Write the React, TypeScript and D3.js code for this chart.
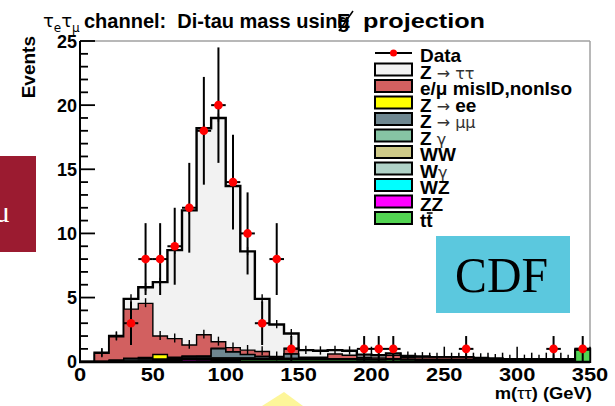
import React from 'react';
import * as d3 from 'd3';

// 35 bins of 10 GeV, 0-350
const binStarts = d3.range(0, 350, 10);
const xTicks = [0, 50, 100, 150, 200, 250, 300, 350];
const yTicks = [0, 5, 10, 15, 20, 25];

// MC backgrounds, events per bin
const zTauTau = [0, 0.05, 0.05, 0.8, 1.25, 4.2, 6.9, 10.5, 16.1, 17.45, 12.6, 7.7, 4.1, 2.5, 1.15, 0.55, 0.5, 0.3, 0.35, 0.2, 0.2, 0.15, 0.1, 0.1, 0.05, 0.05, 0.05, 0.05, 0.05, 0.05, 0.05, 0.05, 0.05, 0.05, 0.05];
const misId = [0, 0.63, 1.83, 3.83, 4.22, 1.44, 1.45, 0.86, 1.65, 0.5, 0.32, 0.33, 0.39, 0.1, 0.45, 0.08, 0.12, 0.37, 0.27, 0.16, 0.13, 0.27, 0.17, 0.15, 0.15, 0.15, 0.15, 0.13, 0.08, 0.05, 0.05, 0.06, 0.06, 0.07, 0.03];
const zee = [0, 0, 0, 0.05, 0.1, 0.35, 0.1, 0.05, 0.05, 0.05, 0.03, 0.02, 0, 0, 0, 0, 0, 0, 0, 0, 0, 0, 0, 0, 0, 0, 0, 0, 0, 0, 0, 0, 0, 0, 0];
const zmumu = [0, 0, 0.05, 0.1, 0.1, 0.05, 0.05, 0.1, 0.1, 0.7, 0.45, 0.25, 0.15, 0.05, 0.35, 0.02, 0, 0, 0, 0, 0, 0, 0, 0, 0, 0, 0, 0, 0, 0, 0, 0, 0, 0, 0];
const zgamma = [0, 0.02, 0.05, 0.08, 0.08, 0.06, 0.05, 0.04, 0.03, 0.02, 0.02, 0.02, 0, 0, 0, 0, 0, 0, 0, 0, 0, 0, 0, 0, 0, 0, 0, 0, 0, 0, 0, 0, 0, 0, 0];
const ww = [0, 0, 0, 0.02, 0.03, 0.04, 0.05, 0.05, 0.06, 0.06, 0.06, 0.06, 0.06, 0.06, 0.06, 0.06, 0.06, 0.06, 0.06, 0.05, 0.05, 0.08, 0.06, 0.05, 0.05, 0.05, 0.05, 0.04, 0.04, 0.03, 0.03, 0.03, 0.03, 0.03, 0.02];
const wgamma = [0, 0, 0.02, 0.02, 0.02, 0.02, 0.02, 0.02, 0.02, 0.02, 0.02, 0, 0, 0, 0, 0, 0, 0, 0, 0, 0, 0, 0, 0, 0, 0, 0, 0, 0, 0, 0, 0, 0, 0, 0];
const wz = [0, 0, 0, 0, 0, 0, 0.02, 0.02, 0.02, 0.02, 0.02, 0.02, 0.02, 0.02, 0.02, 0.02, 0.02, 0.02, 0.02, 0.02, 0, 0, 0, 0, 0, 0, 0, 0, 0, 0, 0, 0, 0, 0, 0];
const zz = [0, 0, 0, 0, 0, 0.02, 0.03, 0.12, 0.12, 0.1, 0.08, 0.05, 0.03, 0.02, 0.02, 0.02, 0, 0, 0, 0, 0, 0, 0, 0, 0, 0, 0, 0, 0, 0, 0, 0, 0, 0, 0];
const ttbar = [0, 0, 0, 0, 0, 0.02, 0.03, 0.04, 0.05, 0.08, 0.1, 0.15, 0.15, 0.15, 0.15, 0.15, 0.15, 0.15, 0.15, 0.12, 0.12, 0.15, 0.12, 0.1, 0.1, 0.1, 0.1, 0.08, 0.08, 0.07, 0.07, 0.06, 0.06, 0.05, 0.9];

// data points
const dataMass = [35, 45, 55, 65, 75, 85, 95, 105, 115, 125, 135, 145, 195, 205, 215, 265, 325, 345];
const dataCounts = [3, 8, 8, 9, 12, 18, 20, 14, 10, 3, 8, 1, 1, 1, 1, 1, 1, 1];
const dataErr = [1.7, 2.8, 2.8, 3, 3.5, 4.2, 4.5, 3.7, 3.2, 1.7, 2.8, 1, 1, 1, 1, 1, 1, 1];

// bottom of stack first
const samples = [
  { key: 'ttbar', values: ttbar, color: '#52d452' },
  { key: 'zz', values: zz, color: '#ff00ff' },
  { key: 'wz', values: wz, color: '#00ffff' },
  { key: 'wgamma', values: wgamma, color: '#b0d2c8' },
  { key: 'ww', values: ww, color: '#cfca88' },
  { key: 'zgamma', values: zgamma, color: '#86c4a4' },
  { key: 'zmumu', values: zmumu, color: '#6f8790' },
  { key: 'zee', values: zee, color: '#ffff00' },
  { key: 'misId', values: misId, color: '#d26060' },
  { key: 'zTauTau', values: zTauTau, color: '#f2f2f2' },
];

const font = '"Liberation Sans", Arial, Helvetica, sans-serif';

const W = 615;
const H = 406;

export default function App() {
  const x = d3.scaleLinear().domain([0, 350]).range([80, 590]);
  const y = d3.scaleLinear().domain([0, 25]).range([361.7, 41]);

  const rows = binStarts.map((b, i) => {
    const r: any = { b };
    samples.forEach(s => (r[s.key] = s.values[i]));
    return r;
  });
  const stacked = d3.stack<any>().keys(samples.map(s => s.key))(rows);

  const area = d3
    .area<[number, number]>()
    .x(d => x(d[0]))
    .y0(y(0))
    .y1(d => y(d[1]))
    .curve(d3.curveStepAfter);

  const layerPath = (layer: d3.Series<any, string>) => {
    const pts: [number, number][] = layer.map((d, i) => [binStarts[i], d[1]]);
    pts.push([350, layer[layer.length - 1][1]]);
    return area(pts) || '';
  };

  const colorOf = (k: string) => samples.find(s => s.key === k)!.color;
  const totals = stacked[stacked.length - 1].map(d => d[1]);
  const misTop = stacked[stacked.length - 2].map(d => d[1]);

  const minorY = d3.range(0, 25.01, 1);
  const minorX = d3.range(0, 350.1, 10);

  const legendItems = [
    { color: '#f2f2f2', label: [['Z', true], [' \u2192 \u03c4\u03c4', false]] },
    { color: '#d26060', label: [['e/\u03bc misID,nonIso', true]] },
    { color: '#ffff00', label: [['Z', true], [' \u2192 ', false], ['ee', true]] },
    { color: '#6f8790', label: [['Z', true], [' \u2192 \u03bc\u03bc', false]] },
    { color: '#86c4a4', label: [['Z', true], [' \u03b3', false]] },
    { color: '#cfca88', label: [['WW', true]] },
    { color: '#b0d2c8', label: [['W', true], ['\u03b3', false]] },
    { color: '#00ffff', label: [['WZ', true]] },
    { color: '#ff00ff', label: [['ZZ', true]] },
    { color: '#52d452', label: [['tt', true]] },
  ] as { color: string; label: [string, boolean][] }[];

  const lgX = 375;
  const lgY0 = 53;
  const lgStep = 16.5;
  const ttY = lgY0 + legendItems.length * lgStep;

  return (
    <svg
      width={W}
      height={H}
      style={{ position: 'absolute', left: 0, top: 0, background: '#fff' }}
      fontFamily={font}
    >
      <rect x={0} y={0} width={W} height={H} fill="#fff" />

      {/* frame */}
      <line x1={80} x2={590} y1={41} y2={41} stroke="#a0a0a0" strokeWidth={1.5} />
      <line x1={590} x2={590} y1={41} y2={362} stroke="#a0a0a0" strokeWidth={1.5} />

      {/* axis ticks (inside) */}
      {minorY.map(v => (
        <line key={'yt' + v} x1={80} x2={80 + (v % 5 === 0 ? 15 : 8)} y1={y(v)} y2={y(v)} stroke="#000" strokeWidth={1.8} />
      ))}
      {minorX.map(v => (
        <line key={'xt' + v} x1={x(v)} x2={x(v)} y1={y(0)} y2={y(0) - (v % 50 === 0 ? 15 : 9)} stroke="#000" strokeWidth={1.5} />
      ))}

      {/* stacked MC, top-most cumulative drawn first */}
      {[...stacked].reverse().map(layer => (
        <path
          key={layer.key}
          d={layerPath(layer)}
          fill={colorOf(layer.key)}
          stroke="#000"
          strokeWidth={layer.key === 'zTauTau' ? 2.4 : 1.4}
        />
      ))}

      {/* MC error ticks */}
      {binStarts.map((b, i) =>
        totals[i] > 0.01 ? (
          <line key={'te' + i} x1={x(b + 5)} x2={x(b + 5)} y1={y(totals[i] - 0.3)} y2={y(totals[i] + 0.35)} stroke="#000" strokeWidth={1.4} />
        ) : null
      )}
      {binStarts.map((b, i) =>
        misTop[i] > 0.3 && i < 15 ? (
          <line key={'me' + i} x1={x(b + 5)} x2={x(b + 5)} y1={y(misTop[i] - 0.3)} y2={y(misTop[i] + 0.4)} stroke="#000" strokeWidth={1.4} />
        ) : null
      )}

      {/* axes */}
      <line x1={80} x2={80} y1={41} y2={362.5} stroke="#000" strokeWidth={2} />
      <line x1={79} x2={590} y1={362} y2={362} stroke="#000" strokeWidth={2.5} />

      {/* data */}
      {dataMass.map((m, i) => (
        <g key={'d' + i}>
          <line x1={x(m)} x2={x(m)} y1={y(Math.max(0, dataCounts[i] - dataErr[i]))} y2={y(dataCounts[i] + dataErr[i])} stroke="#000" strokeWidth={2} />
          <line x1={x(m - 5)} x2={x(m + 5)} y1={y(dataCounts[i])} y2={y(dataCounts[i])} stroke="#000" strokeWidth={2} />
          <circle cx={x(m)} cy={y(dataCounts[i])} r={4.3} fill="#ff0000" />
        </g>
      ))}

      {/* y tick labels */}
      {yTicks.map(v => (
        <text key={'yl' + v} x={77} y={y(v) + 6.5} textAnchor="end" fontSize={18} fontWeight="bold">
          {v}
        </text>
      ))}
      {/* x tick labels */}
      {xTicks.map(v => (
        <text
          key={'xl' + v}
          transform={`translate(${x(v)},381) scale(1.15,1)`}
          textAnchor="middle"
          fontSize={19}
          fontWeight="bold"
        >
          {v}
        </text>
      ))}

      {/* axis titles */}
      <text transform="translate(592,399) scale(1.15,1)" textAnchor="end" fontSize={16} fontWeight="bold">
        m(<tspan fontWeight="normal">{'\u03c4\u03c4'}</tspan>) (GeV)
      </text>
      <text transform="translate(35,36) rotate(-90)" textAnchor="end" fontSize={19} fontWeight="bold">
        Events
      </text>

      {/* title */}
      <text x={43} y={27} fontSize={18} fontFamily='"DejaVu Sans", sans-serif'>
        {'\u03c4'}
        <tspan fontSize={12} dy={5}>e</tspan>
        <tspan dy={-5}>{'\u03c4'}</tspan>
        <tspan fontSize={12} dy={5}>{'\u03bc'}</tspan>
      </text>
      <text x={84} y={28} fontSize={20} fontWeight="bold" style={{ whiteSpace: 'pre' }}>
        {'channel:  Di-tau mass using'}
      </text>
      <text x={337} y={28} fontSize={20} fontWeight="bold">E</text>
      <line x1={339} x2={353} y1={31} y2={11} stroke="#000" strokeWidth={1.5} />
      <text x={363} y={28} fontSize={20} fontWeight="bold" textLength={122} lengthAdjust="spacingAndGlyphs">
        projection
      </text>

      {/* legend */}
      <line x1={lgX} x2={lgX + 37} y1={lgY0} y2={lgY0} stroke="#000" strokeWidth={2} />
      <circle cx={lgX + 18.5} cy={lgY0} r={3.5} fill="#ff0000" />
      <text x={420} y={lgY0 + 9} fontSize={19} fontWeight="bold">Data</text>
      {legendItems.map((it, i) => {
        const cy = lgY0 + (i + 1) * lgStep;
        return (
          <g key={'lg' + i}>
            <rect x={lgX} y={cy - 6} width={37} height={12} fill={it.color} stroke="#000" strokeWidth={2} />
            <text x={420} y={cy + 9} fontSize={19} style={{ whiteSpace: 'pre' }}>
              {it.label.map(([t, b], j) => (
                <tspan
                  key={j}
                  fontWeight={b ? 'bold' : 'normal'}
                  fontSize={b ? 19 : 16}
                  fontFamily={b ? font : '"DejaVu Sans", sans-serif'}
                  fill={b ? '#000' : '#333'}
                >
                  {t}
                </tspan>
              ))}
            </text>
          </g>
        );
      })}
      {/* bar over the second t of t-tbar */}
      <line x1={426.8} x2={432.6} y1={ttY - 5} y2={ttY - 5} stroke="#000" strokeWidth={1.6} />

      {/* CDF badge */}
      <rect x={436} y={236} width={134} height={77} fill="#5bc8de" />
      <text x={455} y={291.5} fontSize={50} fontFamily='"Liberation Serif", "Times New Roman", serif' textLength={93} lengthAdjust="spacingAndGlyphs">
        CDF
      </text>

      {/* slide decorations */}
      <clipPath id="lbox">
        <rect x={0} y={156} width={36} height={96} />
      </clipPath>
      <rect x={0} y={156} width={36} height={96} fill="#9b1b30" />
      <text x={-6} y={222} fontSize={30} fill="#fff" fontFamily='"Liberation Serif", serif' clipPath="url(#lbox)">
        {'\u03bc'}
      </text>
      <polygon points="284,392 262,406 303,406" fill="#fdf69a" />
    </svg>
  );
}
